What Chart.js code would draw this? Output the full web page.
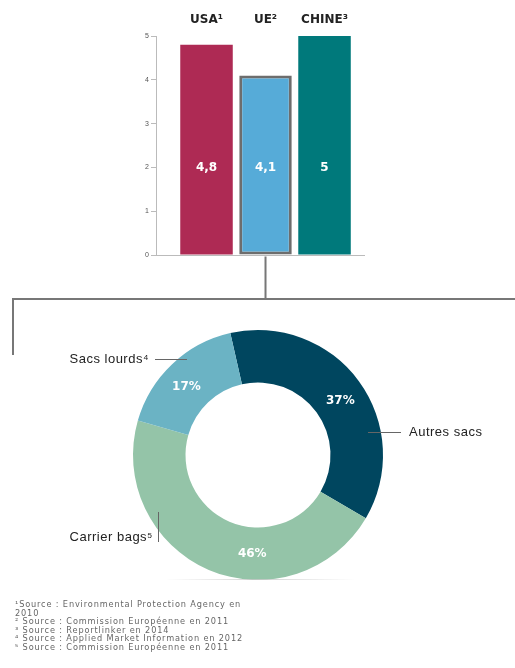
<!DOCTYPE html>
<html>
<head>
<meta charset="utf-8">
<script src="https://cdn.jsdelivr.net/npm/chart.js@4.4.0/dist/chart.umd.min.js"></script>
<style>
  html, body { margin: 0; padding: 0; background: #fff; }
  #wrap { position: relative; width: 515px; height: 668px; overflow: hidden; }
  #wrap canvas { position: absolute; left: 0; top: 0; }
  #notes {
    position: absolute; left: 15px; top: 600px;
    font: 8.2px/8.5px "DejaVu Sans", sans-serif; letter-spacing: 0.85px; color: #666;
  }
</style>
</head>
<body>
<div id="wrap">
  <canvas id="bars" width="515" height="668"></canvas>
  <canvas id="donut" width="515" height="668"></canvas>
  <div id="notes">
    ¹Source : Environmental Protection Agency en<br>2010<br>
    ² Source : Commission Européenne en 2011<br>
    ³ Source : Reportlinker en 2014<br>
    ⁴ Source : Applied Market Information en 2012<br>
    ⁵ Source : Commission Européenne en 2011
  </div>
</div>
<script>
// bar chart data
const pays = ['USA¹', 'UE²', 'CHINE³'];
const valeurs = [4.8, 4.1, 5];
const couleursBarres = ['#ae2a54', '#56abd8', '#00797b'];
const yTicks = [0, 1, 2, 3, 4, 5];

// doughnut data (clockwise from top)
const types = ['Autres sacs', 'Carrier bags⁵', 'Sacs lourds⁴'];
const parts = [37, 46, 17];
const couleursParts = ['#00465f', '#94c4a8', '#6bb3c4'];

const gris = '#777';
const police = '"Liberation Sans", Arial, sans-serif';
const policeGras = '"DejaVu Sans", sans-serif';

// bar chart
const barLabels = {
  id: 'barLabels',
  afterDatasetsDraw(chart) {
    const ctx = chart.ctx;
    const y = chart.scales.y;
    const meta = chart.getDatasetMeta(0);
    ctx.save();
    ctx.font = 'bold 12px ' + policeGras;
    ctx.fillStyle = '#fff';
    ctx.textAlign = 'center';
    ctx.textBaseline = 'middle';
    meta.data.forEach((bar, i) => {
      ctx.fillText(String(valeurs[i]).replace('.', ','), bar.x, y.getPixelForValue(2));
    });
    // baseline
    ctx.strokeStyle = '#bbb';
    ctx.lineWidth = 1;
    const y0 = Math.round(y.getPixelForValue(0)) + 0.5;
    ctx.beginPath();
    ctx.moveTo(chart.chartArea.left - 5, y0);
    ctx.lineTo(chart.chartArea.right, y0);
    ctx.stroke();
    // connector from UE bar to the doughnut
    const ue = meta.data[1];
    ctx.strokeStyle = gris;
    ctx.lineWidth = 2;
    ctx.beginPath();
    ctx.moveTo(ue.x, y0 + 1);
    ctx.lineTo(ue.x, 299);
    ctx.moveTo(515, 299);
    ctx.lineTo(13, 299);
    ctx.lineTo(13, 355);
    ctx.stroke();
    ctx.restore();
  }
};

new Chart(document.getElementById('bars'), {
  type: 'bar',
  data: {
    labels: pays,
    datasets: [{
      data: valeurs.map((v, i) => ({ x: i + 1, y: v })),
      backgroundColor: couleursBarres,
      borderColor: ['rgba(0,0,0,0)', '#6d6d6d', 'rgba(0,0,0,0)'],
      borderWidth: [0, 3, 0],
      borderSkipped: false,
      barPercentage: 0.89,
      categoryPercentage: 1
    }]
  },
  options: {
    responsive: false,
    animation: false,
    layout: { padding: { left: 136, right: 150, top: 14, bottom: 413 } },
    plugins: { legend: { display: false }, tooltip: { enabled: false } },
    scales: {
      x: {
        type: 'linear',
        position: 'top',
        offset: false,
        min: 0.144,
        max: 3.686,
        afterBuildTicks: (s) => { s.ticks = pays.map((p, i) => ({ value: i + 1 })); },
        afterFit: (s) => { s.height = 22; },
        ticks: {
          callback: (v) => pays[v - 1],
          color: '#222',
          font: { family: policeGras, size: 12, weight: 'bold' },
          padding: 9,
          maxRotation: 0
        },
        grid: { display: false, drawTicks: false },
        border: { display: false }
      },
      y: {
        min: 0,
        max: 5,
        afterBuildTicks: (s) => { s.ticks = yTicks.map(v => ({ value: v })); },
        afterFit: (s) => { s.width = 20; },
        ticks: {
          color: '#555',
          font: { family: police, size: 7 },
          padding: 2
        },
        grid: { drawOnChartArea: false, tickLength: 5, color: '#bbb' },
        border: { color: '#bbb' }
      }
    }
  },
  plugins: [barLabels]
});

// doughnut
const labelPos = [0.52, 0.38, 0.45];
const donutLabels = {
  id: 'donutLabels',
  afterDatasetsDraw(chart) {
    const ctx = chart.ctx;
    const meta = chart.getDatasetMeta(0);
    ctx.save();
    ctx.font = 'bold 12px ' + policeGras;
    ctx.fillStyle = '#fff';
    ctx.textAlign = 'center';
    ctx.textBaseline = 'middle';
    meta.data.forEach((arc, i) => {
      const a = arc.startAngle + (arc.endAngle - arc.startAngle) * labelPos[i];
      const r = (arc.innerRadius + arc.outerRadius) / 2;
      ctx.fillText(parts[i] + '%', arc.x + Math.cos(a) * r, arc.y + Math.sin(a) * r);
    });
    // callouts
    ctx.font = '13px ' + police;
    ctx.letterSpacing = '0.5px';
    ctx.fillStyle = '#222';
    ctx.strokeStyle = '#666';
    ctx.lineWidth = 1;
    ctx.textAlign = 'left';
    ctx.fillText(types[0], 409, 432);
    ctx.textAlign = 'right';
    ctx.fillText(types[2], 149, 359);
    ctx.fillText(types[1], 153, 537);
    ctx.beginPath();
    ctx.moveTo(368, 432.5); ctx.lineTo(401, 432.5);
    ctx.moveTo(155, 359.5); ctx.lineTo(187, 359.5);
    ctx.moveTo(158.5, 512); ctx.lineTo(158.5, 542);
    ctx.stroke();
    // soft shadow under the ring
    const g = ctx.createLinearGradient(165, 0, 355, 0);
    g.addColorStop(0, 'rgba(200,200,200,0)');
    g.addColorStop(0.5, 'rgba(200,200,200,0.8)');
    g.addColorStop(1, 'rgba(200,200,200,0)');
    ctx.strokeStyle = g;
    ctx.beginPath();
    ctx.moveTo(165, 579.5); ctx.lineTo(355, 579.5);
    ctx.stroke();
    ctx.restore();
  }
};

new Chart(document.getElementById('donut'), {
  type: 'doughnut',
  data: {
    labels: types,
    datasets: [{
      data: parts,
      backgroundColor: couleursParts,
      borderWidth: 0
    }]
  },
  options: {
    responsive: false,
    animation: false,
    rotation: -12.8,
    cutout: '58%',
    layout: { padding: { left: 133, right: 132, top: 330, bottom: 88 } },
    plugins: { legend: { display: false }, tooltip: { enabled: false } }
  },
  plugins: [donutLabels]
});
</script>
</body>
</html>
